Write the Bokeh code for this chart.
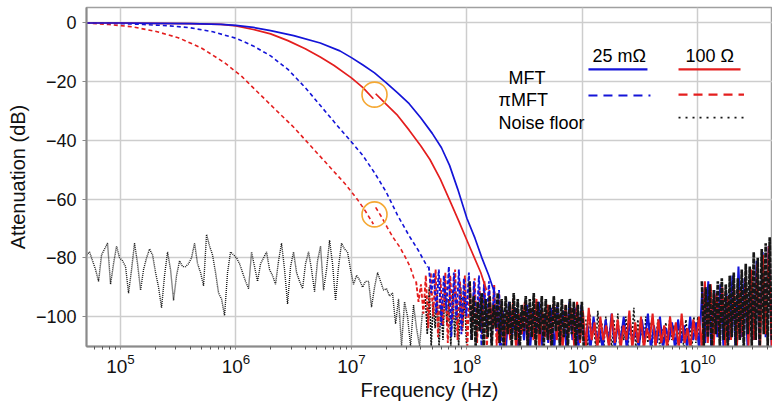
import numpy as np
from bokeh.plotting import figure
from bokeh.models import Label, FixedTicker
from bokeh.embed import file_html
from bokeh.resources import INLINE

# ---------------- data ----------------
x_ticks = [1e5, 1e6, 1e7, 1e8, 1e9, 1e10]
x_minor_ticks = [m * 10.0 ** e for e in range(4, 11) for m in range(2, 10)]
y_ticks = [0, -20, -40, -60, -80, -100]
y_tick_labels = ["0", "\u221220", "\u221240", "\u221260", "\u221280", "\u2212100"]

# MFT, 25 mOhm (blue solid): log10(f / Hz), attenuation dB
mft25_logf = [4.70, 5.00, 5.30, 5.60, 5.87, 6.00, 6.15, 6.30, 6.50, 6.73, 6.90, 7.00, 7.10,
              7.20, 7.30, 7.40, 7.50, 7.60, 7.70, 7.78, 7.85, 7.92, 8.00, 8.07, 8.13, 8.19, 8.24]
mft25_db = [0.0, 0.0, -0.1, -0.2, -0.5, -0.8, -1.5, -2.6, -4.3, -6.8, -9.5, -11.8, -14.3,
            -17.0, -20.3, -23.8, -27.5, -32.3, -37.6, -42.5, -48.5, -56.5, -66.5, -73.3, -80.0, -86.0, -92.0]

# MFT, 100 Ohm (red solid), two measurement segments
mft100_a_logf = [4.70, 5.00, 5.30, 5.60, 5.87, 6.00, 6.15, 6.30, 6.45, 6.60, 6.73, 6.85, 7.00, 7.10, 7.19]
mft100_a_db = [0.0, 0.0, -0.1, -0.2, -0.5, -1.0, -2.2, -3.7, -6.0, -8.8, -11.6, -14.5, -18.7, -22.0, -25.8]
mft100_b_logf = [7.21, 7.30, 7.40, 7.50, 7.60, 7.68, 7.77, 7.86, 7.93, 8.00, 8.06, 8.12, 8.17]
mft100_b_db = [-24.1, -27.6, -31.5, -36.5, -41.8, -46.5, -53.2, -61.2, -67.5, -74.0, -79.5, -85.0, -91.0]

# piMFT, 25 mOhm (blue dashed)
pimft25_logf = [4.70, 5.00, 5.20, 5.40, 5.60, 5.80, 6.00, 6.15, 6.30, 6.45, 6.60, 6.75, 6.90,
                7.00, 7.10, 7.20, 7.30, 7.40, 7.50, 7.58, 7.66]
pimft25_db = [0.0, -0.2, -0.5, -0.9, -1.6, -3.0, -5.2, -7.8, -11.2, -15.8, -22.0, -29.0, -36.0,
              -40.5, -45.2, -51.0, -57.5, -65.5, -72.5, -77.5, -83.2]

# piMFT, 100 Ohm (red dashed), two measurement segments
pimft100_a_logf = [4.70, 4.90, 5.10, 5.30, 5.50, 5.70, 5.90, 6.05, 6.20, 6.35, 6.50, 6.65, 6.80,
                   6.95, 7.05, 7.12, 7.19]
pimft100_a_db = [0.0, -0.5, -1.3, -2.8, -5.0, -8.5, -13.5, -18.2, -24.0, -29.8, -35.5, -42.0, -48.5,
                 -55.0, -60.0, -64.0, -68.5]
pimft100_b_logf = [7.21, 7.26, 7.31, 7.36, 7.42, 7.47, 7.51, 7.55]
pimft100_b_db = [-62.8, -66.0, -69.6, -73.0, -76.4, -80.0, -83.2, -88.0]

# noisy tails: values on an evenly spaced log-frequency sweep (start, stop)
pimft100_tail_band = (7.56, 8.30)
pimft100_tail_db = [-88, -95, -89, -99, -86, -104, -85, -100, -84, -107, -87, -103, -85, -109, -86, -101,
                    -84, -108, -88, -105, -86, -110, -89, -103, -87, -109, -90, -106, -88, -111, -91, -104,
                    -89, -110, -92, -108]
pimft25_tail_band = (7.67, 8.30)
pimft25_tail_db = [-83, -92, -85, -99, -84, -103, -86, -98, -83, -107, -85, -101, -84, -106, -87, -100,
                   -85, -108, -88, -104, -86, -110, -89, -103, -88, -109, -90, -105, -91, -110]
mft100_tail_band = (8.20, 10.64)
mft100_tail_db = [-95, -104, -97, -109, -96, -111, -98, -108, -94, -111, -99, -106, -95, -110, -97, -108,
                  -94, -111, -98, -107, -96, -110, -95, -108, -99, -111, -96, -106, -97, -110, -95, -109,
                  -98, -111, -97, -108, -102, -111, -100, -108, -103, -111, -99, -109, -101, -111, -103, -108,
                  -98, -111, -102, -109, -100, -111, -104, -108, -99, -111, -101, -109, -103, -111, -100, -108,
                  -102, -111, -99, -109, -104, -111, -101, -108, -100, -111, -88, -109, -89, -111, -92, -107,
                  -90, -110, -93, -108, -89, -111, -91, -107, -87, -110, -84, -108, -82, -111, -79, -106,
                  -76, -110]
mft25_tail_band = (8.26, 10.64)
mft25_tail_db = [-96, -110, -98, -111, -95, -107, -97, -111, -99, -108, -96, -111, -98, -106, -95, -110,
                 -99, -109, -97, -111, -96, -107, -98, -111, -95, -108, -97, -111, -96, -109, -103, -111,
                 -100, -108, -104, -111, -101, -109, -99, -111, -103, -108, -100, -111, -102, -109, -104, -111,
                 -101, -108, -99, -111, -103, -109, -100, -111, -104, -108, -102, -111, -101, -109, -103, -111,
                 -100, -108, -102, -111, -90, -109, -88, -111, -91, -107, -89, -110, -92, -108, -86, -111,
                 -83, -107, -87, -110, -85, -108, -81, -111, -78, -107, -76, -110]

# noise floor (black dotted), in four frequency bands
noise_low_band = (4.706, 7.616)
noise_low_db = [-79, -78, -81, -84, -88, -79, -77, -75, -89, -82, -76, -80, -81, -83, -92, -84, -75, -82,
                -91, -84, -80, -77, -79, -85, -90, -97, -86, -78, -84, -94.5, -86, -81, -83, -83, -82, -80,
                -75, -82, -85, -89.5, -72, -76, -79, -85, -92, -94, -99.7, -85, -78, -79, -80, -82, -85, -88,
                -90.5, -78, -83, -88, -82, -80, -78, -84, -86, -89, -81, -75, -84, -95.7, -83, -78, -85, -88,
                -90.5, -82, -78, -84, -91.5, -81, -76, -91, -84, -74, -82, -94.5, -83, -75, -77, -78, -84,
                -89, -86, -87.5, -90, -88, -88, -96.8, -90, -85, -88, -91, -90.5, -93, -92, -102.5, -94,
                -110, -95, -100, -110, -96, -104, -110, -98]
noise_mid_band = (7.64, 7.997)
noise_mid_db = [-93, -106, -90, -110, -95, -104, -92, -110, -96, -108, -89, -103, -94, -110, -91, -107,
                -95, -110, -90, -104, -93, -109]
noise_dense_a_band = (8.024, 9.013)
noise_dense_a_db = [-88, -108, -93, -110, -95, -105, -92, -111, -94, -107, -93, -110, -96, -104, -92, -109,
                    -94, -111, -93, -106, -95, -110, -92, -108, -94, -111, -96, -105, -93, -110, -94, -107,
                    -92, -111, -95, -106, -93, -110, -94, -108, -96, -111, -93, -105, -95, -110, -94, -107,
                    -96, -111, -94, -106, -95, -110, -96, -108, -95, -111]
noise_sparse_band = (9.030, 10.018)
noise_sparse_db = [-101, -110, -99, -108, -103, -111, -98, -109, -102, -111, -100, -108, -104, -111, -101, -109,
                   -99, -111, -103, -108, -100, -111, -102, -109, -97, -111, -101, -108, -104, -111, -100, -109,
                   -102, -111, -103, -108, -101, -111, -104, -109, -102, -111, -100, -108, -103, -111, -102, -109,
                   -104, -111, -101, -108, -103, -111, -100, -109, -100, -111]
noise_dense_b_band = (10.035, 10.64)
noise_dense_b_db = [-88, -110, -90, -107, -89, -111, -91, -106, -88, -110, -87, -108, -89, -111, -86, -107,
                    -85, -110, -87, -108, -84, -111, -82, -106, -83, -110, -78, -108, -80, -111, -77, -106,
                    -75, -110, -73, -108]

# measurement seams highlighted with circles
seam_logf = [7.20, 7.20]
seam_db = [-24.4, -65.2]

# ---------------- styling ----------------
BLUE = "#1414d8"
RED = "#e41e1e"
BLACK = "#161616"
ORANGE = "#f5a833"
FONT = "Liberation Sans"


def hz(logs):
    return [10.0 ** v for v in logs]


def sweep(band, values):
    return np.logspace(band[0], band[1], len(values))


p = figure(width=772, height=404, x_axis_type="log",
           x_range=(10 ** 4.7055, 10 ** 10.647), y_range=(-110.2, 5.28),
           output_backend="svg", toolbar_location=None,
           min_border_left=86, min_border_right=0, min_border_top=7, min_border_bottom=58)
p.background_fill_color = "white"
p.border_fill_color = "white"
p.outline_line_color = "#a0a0a0"
p.outline_line_width = 1.5

p.xaxis.ticker = FixedTicker(ticks=x_ticks, minor_ticks=x_minor_ticks)
p.yaxis.ticker = FixedTicker(ticks=y_ticks)
p.yaxis.major_label_overrides = dict(zip(y_ticks, y_tick_labels))

for ax in (p.xaxis[0], p.yaxis[0]):
    ax.axis_label_text_font = FONT
    ax.axis_label_text_font_style = "normal"
    ax.axis_label_text_font_size = "20px"
    ax.axis_label_text_color = "#111111"
    ax.major_label_text_font = FONT
    ax.major_label_text_color = "#111111"
    ax.axis_line_color = "#8a8a8a"
    ax.axis_line_width = 2
    ax.major_tick_line_color = "#8a8a8a"
    ax.major_tick_in = 0

p.xaxis.axis_label = "Frequency (Hz)"
p.xaxis.major_label_text_font_size = "19px"
p.xaxis.major_tick_out = 3
p.xaxis.minor_tick_out = 3
p.xaxis.minor_tick_in = 0
p.xaxis.minor_tick_line_color = "#555555"
p.xaxis.major_label_standoff = 4
p.xaxis.axis_label_standoff = 3

p.yaxis.axis_label = "Attenuation (dB)"
p.yaxis.major_label_text_font_size = "18px"
p.yaxis.major_tick_out = 4
p.yaxis.minor_tick_line_color = None
p.yaxis.major_label_standoff = 6
p.yaxis.axis_label_standoff = 4

p.xgrid.grid_line_color = "#cdcdcd"
p.ygrid.grid_line_color = "#cdcdcd"
p.xgrid.grid_line_width = 1.5
p.ygrid.grid_line_width = 1.5

# sparse parts of the noise floor, under the coloured noise
p.line(sweep(noise_low_band, noise_low_db), noise_low_db, color=BLACK, line_width=1.4, line_dash="1 1")
p.line(sweep(noise_mid_band, noise_mid_db), noise_mid_db, color=BLACK, line_width=1.6, line_dash="2 1")
p.line(sweep(noise_sparse_band, noise_sparse_db), noise_sparse_db, color=BLACK, line_width=1.6, line_dash="2 2")
# coloured noise tails
p.line(sweep(mft25_tail_band, mft25_tail_db), mft25_tail_db, color=BLUE, line_width=2.0)
p.line(sweep(mft100_tail_band, mft100_tail_db), mft100_tail_db, color=RED, line_width=2.0)
p.line(sweep(pimft100_tail_band, pimft100_tail_db), pimft100_tail_db, color=RED, line_width=1.9, line_dash="4 2")
p.line(sweep(pimft25_tail_band, pimft25_tail_db), pimft25_tail_db, color=BLUE, line_width=1.9, line_dash="4 2")
# dense parts of the noise floor, on top
p.line(sweep(noise_dense_a_band, noise_dense_a_db), noise_dense_a_db, color=BLACK, line_width=2.6, line_dash="5 1")
p.line(sweep(noise_dense_b_band, noise_dense_b_db), noise_dense_b_db, color=BLACK, line_width=2.6, line_dash="5 1")

# smooth curves
p.line(hz(pimft100_a_logf), pimft100_a_db, color=RED, line_width=1.6, line_dash="4 3")
p.line(hz(pimft100_b_logf), pimft100_b_db, color=RED, line_width=1.6, line_dash="4 3")
p.line(hz(pimft25_logf), pimft25_db, color=BLUE, line_width=1.6, line_dash="4 3")
p.line(hz(mft100_a_logf), mft100_a_db, color=RED, line_width=1.7)
p.line(hz(mft100_b_logf), mft100_b_db, color=RED, line_width=1.7)
p.line(hz(mft25_logf), mft25_db, color=BLUE, line_width=1.7)

p.scatter(hz(seam_logf), seam_db, marker="circle", size=25, fill_color=None,
          line_color=ORANGE, line_width=1.6)

# ---- hand-made legend (2 columns x 3 rows) ----
def text(lx, y, s):
    p.add_layout(Label(x=10 ** lx, y=y, text=s, text_font=FONT, text_font_size="18px",
                       text_color="black", text_baseline="alphabetic", text_align="left"))


text(9.088, -11.1, "25 m\u03a9")
text(9.893, -11.1, "100 \u03a9")
text(8.360, -18.6, "MFT")
text(8.274, -26.1, "\u03c0MFT")
text(8.274, -33.9, "Noise floor")

p.line([10 ** 9.053, 10 ** 9.564], [-15.8, -15.8], color=BLUE, line_width=2.2)
p.line([10 ** 9.833, 10 ** 10.37], [-15.8, -15.8], color=RED, line_width=2.2)
p.line([10 ** 9.053, 10 ** 9.59], [-24.7, -24.7], color=BLUE, line_width=2.2, line_dash="9 6")
p.line([10 ** 9.833, 10 ** 10.40], [-24.4, -24.4], color=RED, line_width=2.2, line_dash="9 6")
p.line([10 ** 9.833, 10 ** 10.43], [-32.2, -32.2], color=BLACK, line_width=1.8, line_dash="2 5")

open("out.html", "w").write(file_html(p, INLINE))
